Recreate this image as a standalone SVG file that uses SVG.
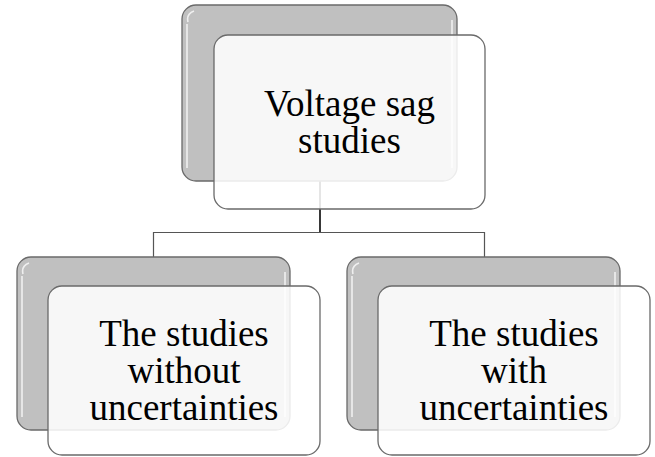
<svg xmlns="http://www.w3.org/2000/svg" width="655" height="457" viewBox="0 0 655 457">
<style>
.back{fill:#c0c0c0;stroke:#6a6a6a;stroke-width:1.3}
.front{fill:#ffffff;fill-opacity:0.87;stroke:#6a6a6a;stroke-width:1.3}
.hl{fill:none;stroke:#ffffff;stroke-opacity:0.75;stroke-width:1.6}
.lbl{font-family:"Liberation Serif","Times New Roman",serif;font-size:37px;fill:#000;text-anchor:middle}
.conn{fill:none;stroke:#555;stroke-width:1.2}
.trunk{fill:none;stroke:#222;stroke-width:1.8}
</style>
<rect width="655" height="457" fill="#ffffff"/>
<g id="connectors">
<path class="trunk" d="M320,181 V233"/>
<path class="conn" d="M153.5,257 V232.5 H484.5 V257"/>
</g>
<g id="node-root">
<rect class="back" x="182" y="5" width="275" height="176" rx="14"/>
<path class="hl" d="M188,22 Q186,14 194,11 M187,24 V168 M452,20 V168"/>
<rect class="front" x="214" y="35" width="271" height="174" rx="14"/>
<text class="lbl" x="349.5" y="116">Voltage sag</text>
<text class="lbl" x="349.5" y="153">studies</text>
</g>
<g id="node-without">
<rect class="back" x="17" y="257" width="273" height="173" rx="14"/>
<path class="hl" d="M23,274 Q21,266 29,263 M22,276 V417 M285,272 V417"/>
<rect class="front" x="48" y="286" width="272" height="169" rx="14"/>
<text class="lbl" x="184" y="346">The studies</text>
<text class="lbl" x="184" y="383">without</text>
<text class="lbl" x="184" y="420">uncertainties</text>
</g>
<g id="node-with">
<rect class="back" x="347" y="257" width="273" height="173" rx="14"/>
<path class="hl" d="M353,274 Q351,266 359,263 M352,276 V417 M615,272 V417"/>
<rect class="front" x="378" y="286" width="272" height="169" rx="14"/>
<text class="lbl" x="514" y="346">The studies</text>
<text class="lbl" x="514" y="383">with</text>
<text class="lbl" x="514" y="420">uncertainties</text>
</g>
</svg>
